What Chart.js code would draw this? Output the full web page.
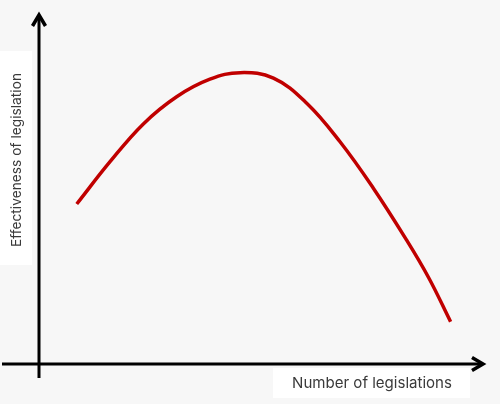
<!DOCTYPE html>
<html>
<head>
<meta charset="utf-8">
<script src="https://cdn.jsdelivr.net/npm/chart.js@4"></script>
<style>
  html, body { margin: 0; padding: 0; background: #f7f7f7; }
  #wrap { width: 500px; height: 404px; }
</style>
</head>
<body>
<div id="wrap"><canvas id="myChart"></canvas></div>
<script>
// curve (arbitrary units, both axes run 0..10)
var xValues = [0.85, 1.60, 2.35, 3.10, 3.85, 4.53, 5.28, 6.03, 6.78, 7.53, 8.28, 8.78, 9.27];
var yValues = [4.65, 5.88, 6.98, 7.77, 8.28, 8.47, 8.31, 7.58, 6.46, 5.11, 3.60, 2.50, 1.23];
var xTitle = "Number of legislations";
var yTitle = "Effectiveness of legislation";

var points = xValues.map(function (x, i) { return {x: x, y: yValues[i]}; });

// font size that makes a label as wide as in the picture
function fitFont(ctx, text, width, family) {
  ctx.font = "20px " + family;
  return (20 * width / ctx.measureText(text).width).toFixed(2) + "px " + family;
}

// draws the arrow axes and the two boxed labels
var axesPlugin = {
  id: "arrowAxes",
  afterDatasetsDraw: function (chart) {
    var ctx = chart.ctx;
    var xs = chart.scales.x, ys = chart.scales.y;
    var ox = xs.getPixelForValue(0), oy = ys.getPixelForValue(0);
    var xEnd = xs.getPixelForValue(10), yEnd = ys.getPixelForValue(10) - 5;

    ctx.save();
    ctx.strokeStyle = "#000";
    ctx.lineWidth = 3;
    ctx.lineCap = "butt";
    ctx.beginPath();
    ctx.moveTo(2, oy); ctx.lineTo(xEnd, oy);
    ctx.moveTo(ox, oy + 14); ctx.lineTo(ox, yEnd);
    ctx.stroke();

    ctx.lineWidth = 3.5;
    ctx.lineJoin = "miter";
    ctx.beginPath();
    ctx.moveTo(xEnd - 11, oy - 6.5); ctx.lineTo(xEnd, oy); ctx.lineTo(xEnd - 11, oy + 6.5);
    ctx.moveTo(ox - 6.5, yEnd + 11); ctx.lineTo(ox, yEnd); ctx.lineTo(ox + 6.5, yEnd + 11);
    ctx.stroke();

    // label boxes
    ctx.fillStyle = "#ffffff";
    ctx.fillRect(273, 368, 197, 30);
    ctx.fillRect(0, 51, 32, 214);

    ctx.fillStyle = "#3a3a3a";
    ctx.textAlign = "center";
    ctx.textBaseline = "middle";
    ctx.font = fitFont(ctx, xTitle, 160, "Inter");
    ctx.fillText(xTitle, 372, 383);

    ctx.translate(17, 160);
    ctx.rotate(-Math.PI / 2);
    ctx.font = fitFont(ctx, yTitle, 174, "Inter");
    ctx.fillText(yTitle, 0, 0);
    ctx.restore();
  }
};

new Chart("myChart", {
  type: "line",
  data: {
    datasets: [{
      data: points,
      borderColor: "#c00000",
      borderWidth: 3.5,
      pointRadius: 0,
      tension: 0.4,
      fill: false,
      clip: false
    }]
  },
  options: {
    responsive: true,
    maintainAspectRatio: false,
    animation: false,
    layout: {padding: {left: 39, right: 17, top: 20, bottom: 40}},
    plugins: {legend: {display: false}, tooltip: {enabled: false}},
    scales: {
      x: {type: "linear", min: 0, max: 10, display: false},
      y: {type: "linear", min: 0, max: 10, display: false}
    }
  },
  plugins: [axesPlugin]
});
</script>
</body>
</html>
